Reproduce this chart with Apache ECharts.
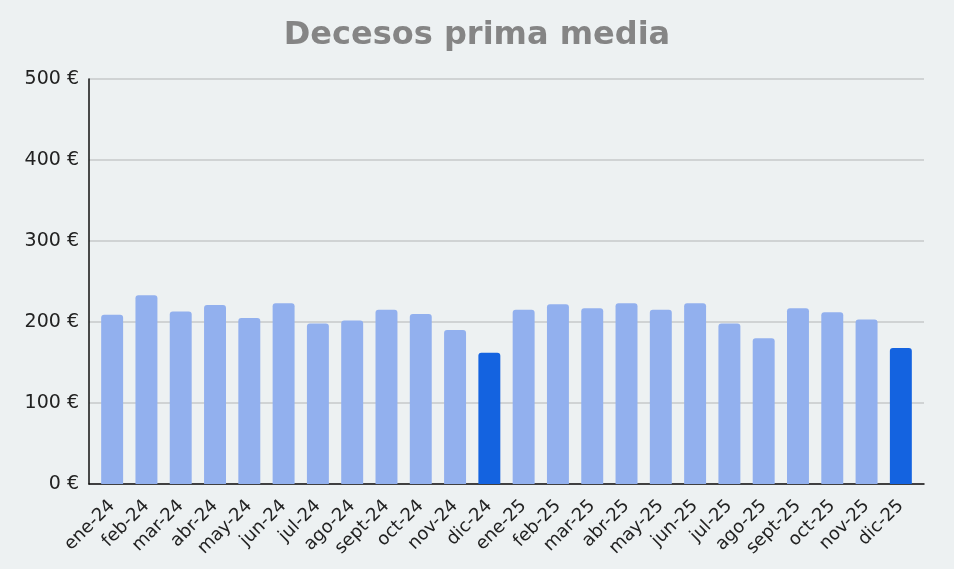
<!DOCTYPE html>
<html lang="es">
<head>
    <meta charset="UTF-8">
    <title>Decesos prima media</title>
    <script src="https://cdn.jsdelivr.net/npm/echarts@6/dist/echarts.min.js"></script>
    <style>
        html, body { margin: 0; padding: 0; background: #edf1f2; }
        #chart { width: 954px; height: 569px; }
    </style>
</head>
<body>
    <div id="chart"></div>
    <script>
        // 数据
        var months = ['ene-24', 'feb-24', 'mar-24', 'abr-24', 'may-24', 'jun-24', 'jul-24', 'ago-24',
                      'sept-24', 'oct-24', 'nov-24', 'dic-24', 'ene-25', 'feb-25', 'mar-25', 'abr-25',
                      'may-25', 'jun-25', 'jul-25', 'ago-25', 'sept-25', 'oct-25', 'nov-25', 'dic-25'];
        var primaMedia = [209, 233, 213, 221, 205, 223, 198, 202, 215, 210, 190, 162,
                          215, 222, 217, 223, 215, 223, 198, 180, 217, 212, 203, 168];
        var highlighted = ['dic-24', 'dic-25'];

        var lightColor = '#92b0ee';
        var darkColor = '#1463e0';
        var axisColor = '#111';

        var chart = echarts.init(document.getElementById('chart'));
        chart.setOption({
            backgroundColor: '#edf1f2',
            textStyle: { fontFamily: 'DejaVu Sans' },
            title: {
                text: 'Decesos prima media',
                left: 'center',
                top: 15,
                textStyle: { color: '#858585', fontSize: 32, fontWeight: 'bold', fontFamily: 'DejaVu Sans' }
            },
            // grid 0: 坐标轴与网格线; grid 1: 柱子 (两侧留白)
            grid: [
                { left: 89, right: 30, top: 79, bottom: 85 },
                { left: 95, right: 36, top: 79, bottom: 85 }
            ],
            xAxis: [{
                gridIndex: 0,
                type: 'value',
                min: 0,
                max: 1,
                axisLine: { show: true, lineStyle: { color: axisColor, width: 1.5 } },
                axisTick: { show: false },
                axisLabel: { show: false },
                splitLine: { show: false }
            }, {
                gridIndex: 1,
                type: 'category',
                data: months,
                axisLine: { show: false },
                axisTick: { show: false },
                axisLabel: { rotate: 45, color: '#222', fontSize: 18, margin: 19, interval: 0 }
            }],
            yAxis: [{
                gridIndex: 0,
                type: 'value',
                min: 0,
                max: 500,
                interval: 100,
                axisLine: { show: true, lineStyle: { color: axisColor, width: 1.5 } },
                axisTick: { show: false },
                axisLabel: { color: '#222', fontSize: 19, margin: 10, formatter: '{value} €' },
                splitLine: { lineStyle: { color: '#c6c9ca', width: 1.5 } }
            }, {
                gridIndex: 1,
                type: 'value',
                min: 0,
                max: 500,
                show: false
            }],
            series: [{
                type: 'bar',
                xAxisIndex: 1,
                yAxisIndex: 1,
                barCategoryGap: '36%',
                data: primaMedia.map(function (v, i) {
                    return {
                        value: v,
                        itemStyle: { color: highlighted.indexOf(months[i]) >= 0 ? darkColor : lightColor }
                    };
                }),
                itemStyle: { borderRadius: [3, 3, 0, 0] }
            }]
        });
    </script>
</body>
</html>
